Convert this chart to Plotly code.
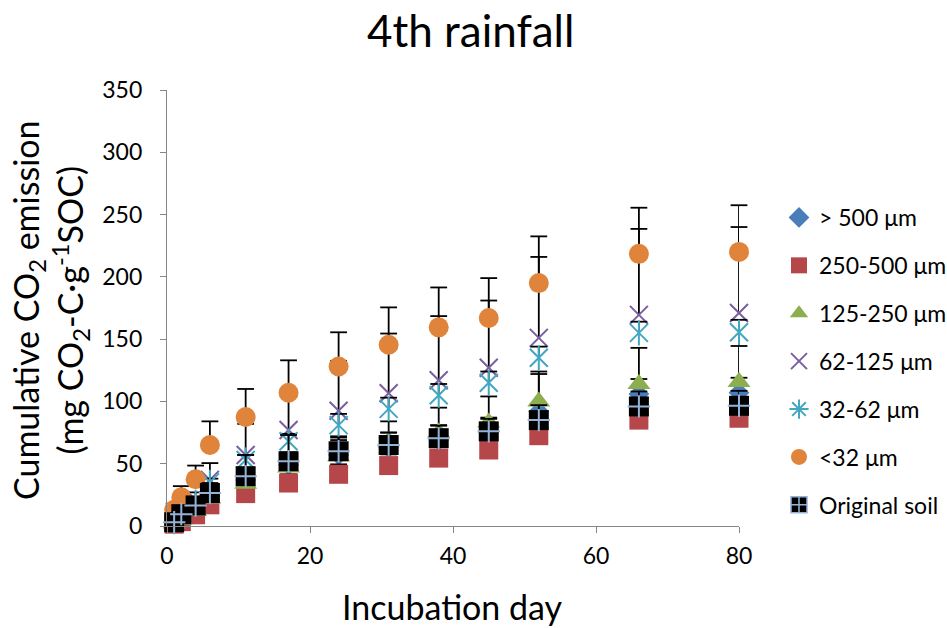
import plotly.graph_objects as go

# ---------------- data ----------------
days = [1, 2, 4, 6, 11, 17, 24, 31, 38, 45, 52, 66, 80]

gt500 = [3, 8, 15, 24, 37, 49, 57, 63, 69, 75, 92, 106, 107]
gt500_err = [1, 2, 3, 5, 8, 10, 12, 12, 12, 12, 30, 12, 12]

s250_500 = [1.5, 3.5, 9, 17, 26, 34.5, 41.5, 48.5, 54.5, 61, 72.5, 85, 86.5]
s250_500_err = [0.5, 1, 2, 3, 5, 7, 8, 9, 10, 11, 12, 14, 14]

s125_250 = [2, 5, 12, 22, 34, 47, 56, 68, 75, 83, 100, 114, 115.5]
s125_250_err = [1, 2, 3, 5, 8, 10, 16, 16, 20, 21, 24, 29, 29]

s62_125 = [3.5, 9, 21, 37, 57, 77, 92.5, 106.5, 117, 127, 151, 169.5, 171]
s62_125_err = [1.5, 4, 6, 13.5, 25, 33, 40, 48, 51.5, 54, 65, 69, 69]

s32_62 = [3.5, 8, 19, 35, 53, 68, 81, 94, 105, 115, 135, 155, 155.5]
s32_62_err = [0.5, 1, 2, 3, 4, 6, 9, 9, 9, 9, 9, 9, 10]

lt32 = [13, 23, 37.5, 65, 87.5, 107, 128, 145.5, 159.5, 167, 195, 218.5, 220]
lt32_err = [5, 9, 11, 19, 22.5, 26, 27.5, 30, 32, 32, 37.5, 37, 37.5]

original = [3, 9.5, 16.5, 26.5, 40, 52, 60, 65, 70.5, 76, 85, 96, 96.5]
original_err = [2, 3, 5, 8, 17, 21, 11, 10, 10, 10, 12, 12, 12]

names = ["> 500 μm", "250-500 μm", "125-250 μm", "62-125 μm", "32-62 μm", "<32 μm", "Original soil"]
x_ticks = [0, 20, 40, 60, 80]
y_ticks = [0, 50, 100, 150, 200, 250, 300, 350]

title_text = "4th rainfall"
x_title = "Incubation day"
y_title = "Cumulative CO<sub>2</sub> emission<br>(mg CO<sub>2</sub>-C·g<sup>-1</sup>SOC)"

FONT = "Lato"
C_BLUE = "#4A7EBB"
C_RED = "#B5464A"
C_GREEN = "#8DAE4E"
C_PURPLE = "#7A5E9F"
C_CYAN = "#43A7C2"
C_ORANGE = "#E0843C"
C_PLUS = "#95B3D7"

fig = go.Figure()


def add_err(vals, errs):
    # plus-direction error bars: vertical line from point up to value+error, with a cap
    xs, ys = [], []
    for d, v, e in zip(days, vals, errs):
        xs += [d, d, None]
        ys += [v, v + e, None]
    fig.add_trace(go.Scatter(x=xs, y=ys, mode="lines", line=dict(color="black", width=1.8),
                             showlegend=False, hoverinfo="skip", cliponaxis=False))
    fig.add_trace(go.Scatter(x=days, y=[v + e for v, e in zip(vals, errs)], mode="markers",
                             marker=dict(symbol="line-ew", size=12, color="black",
                                         line=dict(color="black", width=1.8)),
                             showlegend=False, hoverinfo="skip", cliponaxis=False))


def lg(i):
    return dict(legendgroup="g%d" % i, name=names[i])


# > 500 um
add_err(gt500, gt500_err)
fig.add_trace(go.Scatter(x=days, y=gt500, mode="markers", cliponaxis=False,
                         marker=dict(symbol="diamond", size=16, color=C_BLUE), **lg(0)))
# 250-500 um
add_err(s250_500, s250_500_err)
fig.add_trace(go.Scatter(x=days, y=s250_500, mode="markers", cliponaxis=False,
                         marker=dict(symbol="square", size=19, color=C_RED), **lg(1)))
# 125-250 um
add_err(s125_250, s125_250_err)
fig.add_trace(go.Scatter(x=days, y=s125_250, mode="markers", cliponaxis=False,
                         marker=dict(symbol="triangle-up", size=20, color=C_GREEN), **lg(2)))
# 62-125 um
add_err(s62_125, s62_125_err)
fig.add_trace(go.Scatter(x=days, y=s62_125, mode="markers", cliponaxis=False,
                         marker=dict(symbol="x-thin", size=18, color=C_PURPLE,
                                     line=dict(color=C_PURPLE, width=2)), **lg(3)))
# 32-62 um (star = x plus vertical line)
add_err(s32_62, s32_62_err)
fig.add_trace(go.Scatter(x=days, y=s32_62, mode="markers", cliponaxis=False, showlegend=False,
                         marker=dict(symbol="x-thin", size=18, color=C_CYAN,
                                     line=dict(color=C_CYAN, width=2))))
fig.add_trace(go.Scatter(x=days, y=s32_62, mode="markers", cliponaxis=False, showlegend=False,
                         marker=dict(symbol="line-ns", size=18, color=C_CYAN,
                                     line=dict(color=C_CYAN, width=2))))
fig.add_trace(go.Scatter(x=[None], y=[None], mode="markers",
                         marker=dict(symbol="asterisk-open", size=16, color=C_CYAN,
                                     line=dict(color=C_CYAN, width=2)), **lg(4)))
# <32 um
add_err(lt32, lt32_err)
fig.add_trace(go.Scatter(x=days, y=lt32, mode="markers", cliponaxis=False,
                         marker=dict(symbol="circle", size=20, color=C_ORANGE), **lg(5)))
# Original soil (black square with light-blue plus)
add_err(original, original_err)
fig.add_trace(go.Scatter(x=days, y=original, mode="markers", cliponaxis=False, showlegend=False,
                         marker=dict(symbol="square", size=20, color="black")))
fig.add_trace(go.Scatter(x=days, y=original, mode="markers", cliponaxis=False, showlegend=False,
                         marker=dict(symbol="cross-thin", size=16, color=C_PLUS,
                                     line=dict(color=C_PLUS, width=2))))
fig.add_trace(go.Scatter(x=[None], y=[None], mode="markers",
                         marker=dict(symbol="square-cross", size=16, color="black",
                                     line=dict(color=C_PLUS, width=1.5)), **lg(6)))

L, R, T, B = 167, 208, 90, 102
W, H = 947, 628
pw, ph = W - L - R, H - T - B


def px_x(px):
    return (px - L) / pw


def px_y(py):
    return (H - B - py) / ph


axis_common = dict(showline=True, linecolor="#868686", linewidth=1.3, ticks="outside",
                   ticklen=6, tickcolor="#868686", tickwidth=1.3, showgrid=False, zeroline=False,
                   tickfont=dict(family=FONT, size=23, color="black"))

fig.update_layout(
    width=W, height=H,
    margin=dict(l=L, r=R, t=T, b=B, autoexpand=False),
    paper_bgcolor="white", plot_bgcolor="white",
    font=dict(family=FONT, color="black"),
    xaxis=dict(range=[0, 80], tickvals=x_ticks, ticklabelstandoff=3, **axis_common),
    yaxis=dict(range=[0, 350], tickvals=y_ticks, ticklabelstandoff=13, **axis_common),
    legend=dict(x=px_x(779), y=px_y(196), xanchor="left", yanchor="top",
                font=dict(family=FONT, size=23, color="black"),
                traceorder="grouped", tracegroupgap=15, itemsizing="trace",
                bgcolor="rgba(0,0,0,0)"),
    showlegend=True,
    annotations=[
        dict(text=title_text, xref="paper", yref="paper", x=px_x(470), y=px_y(30),
             xanchor="center", yanchor="middle", showarrow=False,
             font=dict(family=FONT, size=44, color="black")),
        dict(text=x_title, xref="paper", yref="paper", x=px_x(452), y=px_y(606),
             xanchor="center", yanchor="middle", showarrow=False,
             font=dict(family=FONT, size=34, color="black")),
        dict(text=y_title, xref="paper", yref="paper", x=px_x(50), y=px_y(310),
             xanchor="center", yanchor="middle", showarrow=False, textangle=-90,
             font=dict(family=FONT, size=34, color="black")),
    ],
)

fig.write_html("out.html")
